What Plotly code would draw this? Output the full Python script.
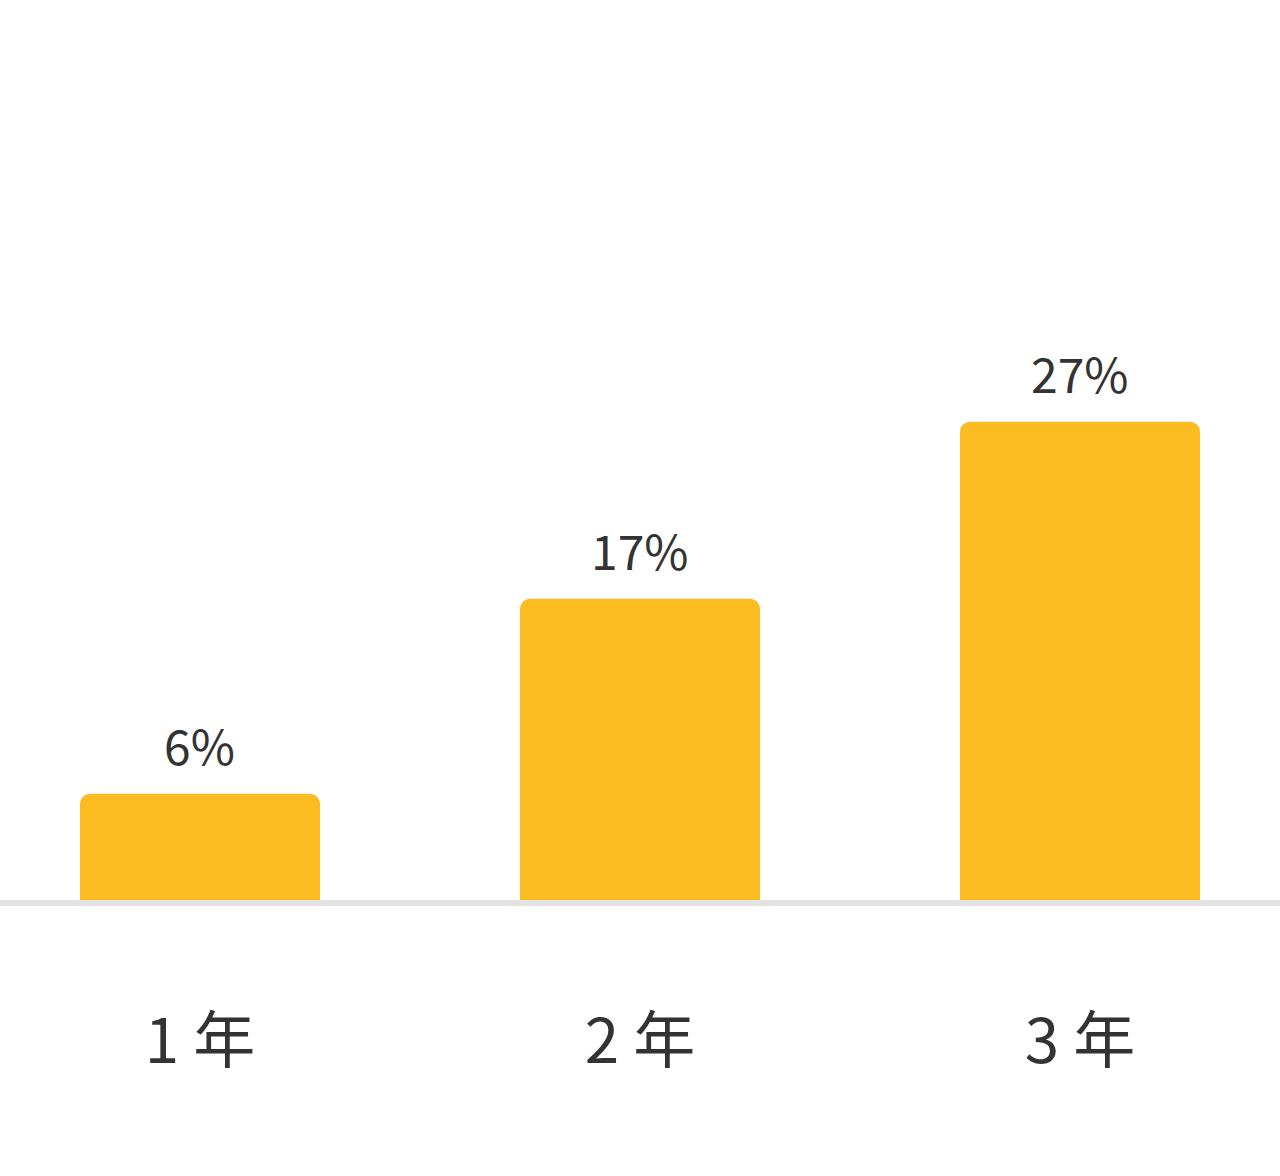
import plotly.graph_objects as go

# data
years = ["1 年", "2 年", "3 年"]
rates = [6, 17, 27]
rate_labels = ["6%", "17%", "27%"]

FONT = "Noto Sans CJK SC"
BAR_COLOR = "#FBBC22"
TEXT_COLOR = "#333333"

fig = go.Figure()
fig.add_trace(go.Bar(
    x=years,
    y=rates,
    width=0.5455,
    marker=dict(color=BAR_COLOR, cornerradius=10, line=dict(width=0)),
    hoverinfo="skip",
))

# value labels above each bar
for yr, r, lab in zip(years, rates, rate_labels):
    fig.add_annotation(
        x=yr, y=r, text=lab, showarrow=False,
        yanchor="bottom", yshift=13,
        font=dict(family=FONT, size=48, color=TEXT_COLOR),
    )

# grey base line just under the bars
fig.add_shape(
    type="rect", xref="paper", x0=0, x1=1,
    yref="paper", ysizemode="pixel", yanchor=0, y0=0, y1=-6,
    line=dict(width=0), fillcolor="#E3E3E3", layer="above",
)

fig.update_layout(
    width=1280, height=1176,
    margin=dict(l=0, r=0, t=0, b=276),
    paper_bgcolor="white", plot_bgcolor="white",
    showlegend=False,
    font=dict(family=FONT, color=TEXT_COLOR),
)
fig.update_xaxes(
    range=[-0.4545, 2.4545],
    showgrid=False, showline=False, zeroline=False, ticks="",
    tickfont=dict(family=FONT, size=62, color=TEXT_COLOR),
    ticklabelstandoff=100,
)
fig.update_yaxes(
    range=[0, 50.8],
    showgrid=False, showline=False, zeroline=False,
    showticklabels=False, ticks="",
)

fig.write_html("out.html", config={"displayModeBar": False},
               post_script="document.body.style.margin='0';")
